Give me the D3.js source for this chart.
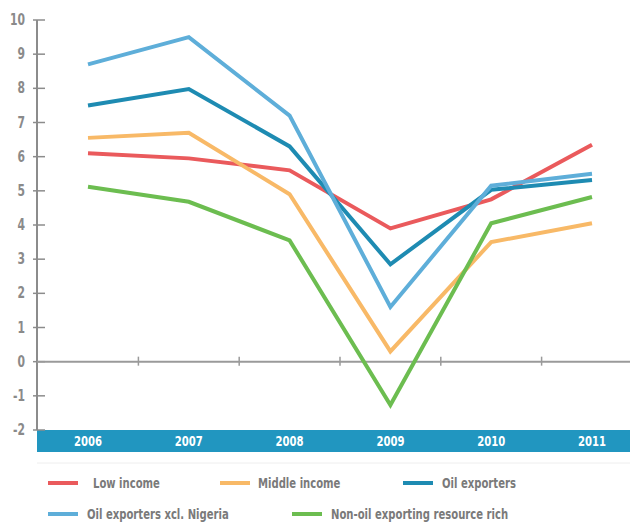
<!DOCTYPE html>
<html>
<head>
<meta charset="utf-8">
<script src="https://cdn.jsdelivr.net/npm/d3@7"></script>
<style>
  html, body { margin: 0; padding: 0; background: #fff; }
  svg { display: block; }
  text { font-family: "DejaVu Sans Condensed", "Roboto", sans-serif; }
</style>
</head>
<body>
<svg id="chart" width="632" height="522"></svg>
<script>
// Real GDP growth (%), 2006-2011
const years = ["2006", "2007", "2008", "2009", "2010", "2011"];
const yTicks = [-2, -1, 0, 1, 2, 3, 4, 5, 6, 7, 8, 9, 10];

const lowIncome     = [6.1, 5.95, 5.6, 3.9, 4.75, 6.35];
const middleIncome  = [6.55, 6.7, 4.9, 0.3, 3.5, 4.05];
const oilExporters  = [7.5, 7.98, 6.3, 2.85, 5.03, 5.32];
const oilExclNigeria = [8.7, 9.5, 7.2, 1.6, 5.15, 5.5];
const nonOilRich    = [5.12, 4.68, 3.55, -1.27, 4.05, 4.82];

const seriesNames = ["Low income", "Middle income", "Oil exporters",
                     "Oil exporters xcl. Nigeria", "Non-oil exporting resource rich"];
const seriesValues = [lowIncome, middleIncome, oilExporters, oilExclNigeria, nonOilRich];
const seriesColors = ["#ea5a5c", "#f8b967", "#1e8bb2", "#5eaed9", "#6cbd50"];

const svg = d3.select("#chart");
const axisX = 37, rightEdge = 630;
const squeeze = 0.8; // horizontal compression for a narrow type look

// place a text horizontally compressed around its anchor point
function narrow(sel, ax, ay) {
  sel.attr("x", 0).attr("y", 0)
     .attr("transform", (d, i) => `translate(${ax(d, i)},${ay(d, i)}) scale(${squeeze},1)`);
}

const x = d3.scalePoint().domain(years).range([88, 592]);
const y = d3.scaleLinear().domain([-2, 10]).range([430, 20]);

// x-axis band
svg.append("rect")
  .attr("x", axisX).attr("y", y(-2))
  .attr("width", rightEdge - axisX).attr("height", 22)
  .attr("fill", "#2196c0");

svg.append("g").selectAll("text")
  .data(years).join("text")
  .call(narrow, d => x(d), () => y(-2) + 16)
  .attr("text-anchor", "middle")
  .attr("fill", "#ffffff")
  .attr("font-size", 14).attr("font-weight", "bold")
  .text(d => d);

// y axis
svg.append("line")
  .attr("x1", axisX).attr("x2", axisX)
  .attr("y1", y(10)).attr("y2", y(-2))
  .attr("stroke", "#8c8c8c").attr("stroke-width", 2);

const yg = svg.append("g");
yg.selectAll("line")
  .data(yTicks).join("line")
  .attr("x1", axisX - 4).attr("x2", axisX + 8)
  .attr("y1", d => y(d)).attr("y2", d => y(d))
  .attr("stroke", "#8c8c8c").attr("stroke-width", 1.5);
yg.selectAll("text")
  .data(yTicks).join("text")
  .call(narrow, () => 25, d => y(d) + 5)
  .attr("text-anchor", "end")
  .attr("fill", "#8a8a8a")
  .attr("font-size", 15).attr("font-weight", "bold")
  .text(d => d);

// zero line with ticks between years
svg.append("line")
  .attr("x1", axisX).attr("x2", rightEdge)
  .attr("y1", y(0)).attr("y2", y(0))
  .attr("stroke", "#9a9a9a").attr("stroke-width", 2);
const mids = d3.pairs(years).map(([a, b]) => (x(a) + x(b)) / 2);
svg.append("g").selectAll("line")
  .data(mids).join("line")
  .attr("x1", d => d).attr("x2", d => d)
  .attr("y1", y(0) - 5).attr("y2", y(0) + 4)
  .attr("stroke", "#9a9a9a").attr("stroke-width", 1.5);

// series lines
const line = d3.line()
  .x((d, i) => x(years[i]))
  .y(d => y(d));

svg.append("g").selectAll("path")
  .data(seriesValues).join("path")
  .attr("d", d => line(d))
  .attr("fill", "none")
  .attr("stroke", (d, i) => seriesColors[i])
  .attr("stroke-width", 4)
  .attr("stroke-linejoin", "miter");

// separator above legend
svg.append("line")
  .attr("x1", axisX).attr("x2", rightEdge)
  .attr("y1", 463).attr("y2", 463)
  .attr("stroke", "#eeeeee").attr("stroke-width", 1);

// legend
const legendPos = [
  { sx: 48, tx: 93, y: 483 },
  { sx: 220, tx: 258, y: 483 },
  { sx: 403, tx: 442, y: 483 },
  { sx: 48, tx: 87, y: 514 },
  { sx: 292, tx: 331, y: 514 }
];
const lg = svg.append("g").selectAll("g")
  .data(seriesNames).join("g");
lg.append("line")
  .attr("x1", (d, i) => legendPos[i].sx).attr("x2", (d, i) => legendPos[i].sx + 30)
  .attr("y1", (d, i) => legendPos[i].y).attr("y2", (d, i) => legendPos[i].y)
  .attr("stroke", (d, i) => seriesColors[i])
  .attr("stroke-width", 4);
lg.append("text")
  .call(narrow, (d, i) => legendPos[i].tx, (d, i) => legendPos[i].y + 5)
  .attr("fill", "#7a7a7a")
  .attr("font-size", 14).attr("font-weight", "bold")
  .text(d => d);
</script>
</body>
</html>
